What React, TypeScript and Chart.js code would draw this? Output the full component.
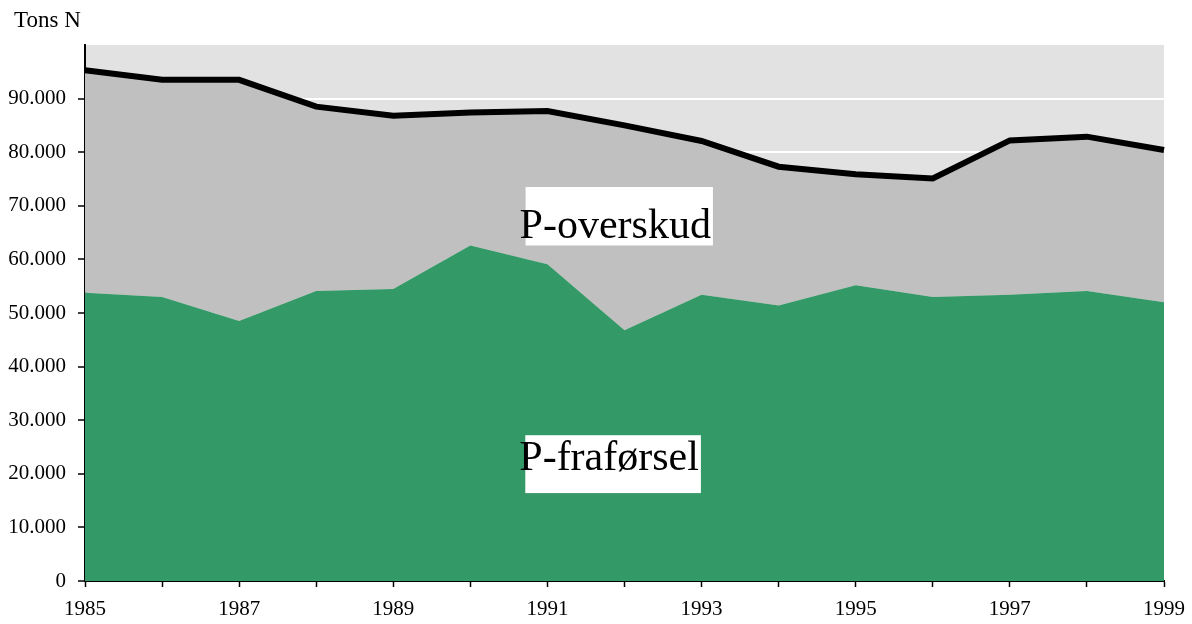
import React, { useEffect, useRef } from "react";
import { Chart, registerables } from "chart.js";

Chart.register(...registerables);

const years = ["1985","1986","1987","1988","1989","1990","1991","1992","1993","1994","1995","1996","1997","1998","1999"];
const fraforsel = [53800, 53000, 48500, 54100, 54500, 62600, 59100, 46800, 53400, 51400, 55200, 53000, 53400, 54100, 52000];
const total = [95300, 93500, 93500, 88500, 86800, 87400, 87700, 85000, 82100, 77300, 75900, 75100, 82200, 82900, 80400];

const labelTexts = ["P-overskud", "P-fraførsel"];
const labelX = [6.88, 6.80];          // category index of text centre
const labelBoxTop = [73500, 27200];   // value of box top
const labelBoxBottom = [62600, 16400];// value of box bottom
const labelBaseline = [63900, 20700]; // value of text baseline

const FONT = "'Liberation Serif', 'Times New Roman', serif";

function fmt(v: number): string {
  if (v === 0) return "0";
  const s = Math.round(v).toString();
  return s.replace(/\B(?=(\d{3})+(?!\d))/g, ".");
}

const bgPlugin = {
  id: "plotBg",
  beforeDraw(chart: any) {
    const { ctx, chartArea } = chart;
    ctx.save();
    ctx.fillStyle = "#e2e2e2";
    ctx.fillRect(chartArea.left, chartArea.top, chartArea.right - chartArea.left, chartArea.bottom - chartArea.top);
    ctx.restore();
  },
};

const annotPlugin = {
  id: "annot",
  afterDatasetsDraw(chart: any) {
    const { ctx, scales } = chart;
    const xs = scales.x;
    const ys = scales.y;
    ctx.save();
    ctx.font = `42px ${FONT}`;
    for (let i = 0; i < labelTexts.length; i++) {
      const cx = xs.getPixelForValue(labelX[i]);
      const top = ys.getPixelForValue(labelBoxTop[i]);
      const bottom = ys.getPixelForValue(labelBoxBottom[i]);
      const w = ctx.measureText(labelTexts[i]).width;
      ctx.fillStyle = "#ffffff";
      ctx.fillRect(cx - w / 2 + 6, top, w - 4, bottom - top);
      ctx.fillStyle = "#000000";
      ctx.textAlign = "center";
      ctx.textBaseline = "alphabetic";
      ctx.fillText(labelTexts[i], cx, ys.getPixelForValue(labelBaseline[i]));
    }
    ctx.restore();
  },
  afterDraw(chart: any) {
    const { ctx } = chart;
    ctx.save();
    ctx.font = `23px ${FONT}`;
    ctx.fillStyle = "#000";
    ctx.textAlign = "left";
    ctx.textBaseline = "alphabetic";
    ctx.fillText("Tons N", 14, 27);
    ctx.restore();
  },
};

export default function App() {
  const ref = useRef<HTMLCanvasElement | null>(null);
  useEffect(() => {
    if (!ref.current) return;
    const chart = new Chart(ref.current, {
      type: "line",
      data: {
        labels: years,
        datasets: [
          {
            label: "P-fraførsel",
            data: fraforsel,
            fill: "origin",
            backgroundColor: "#339966",
            borderWidth: 0,
            borderColor: "rgba(0,0,0,0)",
            pointRadius: 0,
            tension: 0,
          },
          {
            label: "Total",
            data: total,
            fill: "-1",
            backgroundColor: "#c0c0c0",
            borderColor: "#000000",
            borderWidth: 6,
            pointRadius: 0,
            tension: 0,
            borderJoinStyle: "miter",
          },
        ],
      },
      options: {
        animation: false,
        responsive: true,
        maintainAspectRatio: false,
        layout: { padding: { left: 0, right: 28, top: 45, bottom: 0 } },
        plugins: { legend: { display: false }, tooltip: { enabled: false } },
        scales: {
          x: {
            offset: false,
            grid: { drawOnChartArea: false, drawTicks: true, tickColor: "#000", tickLength: 6, tickWidth: 1.5 },
            border: { display: true, color: "#000", width: 2 },
            ticks: {
              autoSkip: false,
              maxRotation: 0,
              padding: 10,
              color: "#000",
              font: { family: FONT, size: 21 },
              callback: (_v: any, i: number) => (i % 2 === 0 ? years[i] : ""),
            },
            afterFit: (s: any) => { s.height = 43; s.paddingLeft = 0; s.paddingRight = 0; },
          },
          y: {
            min: 0,
            max: 100000,
            grid: { color: "#ffffff", lineWidth: 2, tickColor: "#000", tickLength: 7, tickWidth: 1.5 },
            border: { display: true, color: "#000", width: 2 },
            ticks: {
              stepSize: 10000,
              padding: 12,
              color: "#000",
              font: { family: FONT, size: 21 },
              callback: (v: any) => fmt(Number(v)),
            },
            afterBuildTicks: (s: any) => { s.ticks = s.ticks.filter((t: any) => t.value < 100000); },
            afterFit: (s: any) => { s.width = 85; },
          },
        },
      },
      plugins: [bgPlugin, annotPlugin],
    });
    return () => chart.destroy();
  }, []);
  return (
    <div style={{ position: "fixed", left: 0, top: 0, width: 1192, height: 624, background: "#fff" }}>
      <canvas ref={ref} />
    </div>
  );
}
